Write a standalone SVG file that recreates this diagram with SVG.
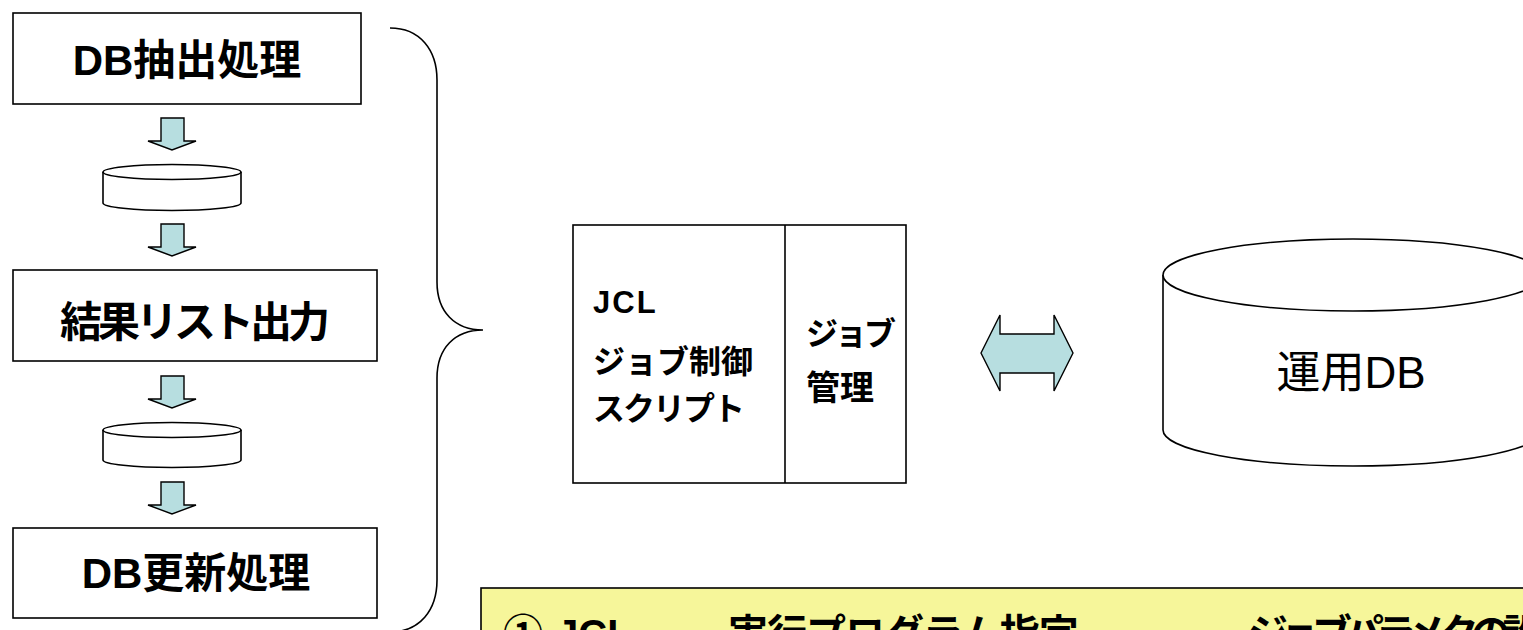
<svg xmlns="http://www.w3.org/2000/svg" width="1523" height="630" viewBox="0 0 1523 630">
<style>
.box{fill:#fff;stroke:#000;stroke-width:1.6}
.line{fill:none;stroke:#000;stroke-width:1.6}
.barrow{fill:#B7DEE0;stroke:#000;stroke-width:1.4;stroke-linejoin:miter}
.t{font-family:"Liberation Sans","Noto Sans CJK JP",sans-serif;fill:#000}
.b{font-weight:bold}
</style>
<defs>
<path id="downArrow" d="M161,0 H184 V23 H196 L172,32 L148,23 H161 Z"/>
</defs>
<rect width="1523" height="630" fill="#fff"/>

<g id="node-db-extract">
<rect class="box" x="13" y="13" width="348" height="91"/>
<text class="t b" x="187" y="75" font-size="42" text-anchor="middle">DB抽出処理</text>
</g>

<g id="node-disk1">
<path class="box" d="M103,172 V203 A69,7.5 0 0 0 241,203 V172"/>
<ellipse class="box" cx="172" cy="172" rx="69" ry="7.5"/>
</g>

<g id="node-result-list">
<rect class="box" x="13" y="270" width="364" height="91"/>
<text class="t b" x="193" y="337" font-size="42" letter-spacing="-4" text-anchor="middle">結果リスト出力</text>
</g>

<g id="node-disk2">
<path class="box" d="M103,430 V460 A69,7.5 0 0 0 241,460 V430"/>
<ellipse class="box" cx="172" cy="430" rx="69" ry="7.5"/>
</g>

<g id="node-db-update">
<rect class="box" x="13" y="528" width="364" height="90"/>
<text class="t b" x="196" y="588" font-size="42" text-anchor="middle">DB更新処理</text>
</g>

<g id="node-jcl">
<rect class="box" x="573" y="225" width="333" height="258"/>
<line class="line" x1="785" y1="225" x2="785" y2="483"/>
<text class="t b" x="593" y="313" font-size="31" letter-spacing="2">JCL</text>
<text class="t b" x="593" y="373" font-size="32">ジョブ制御</text>
<text class="t b" x="593" y="420" font-size="32" letter-spacing="-2">スクリプト</text>
<text class="t b" x="806" y="345" font-size="32" letter-spacing="-3">ジョブ</text>
<text class="t b" x="806" y="400" font-size="34">管理</text>
</g>

<g id="node-operational-db">
<path class="box" d="M1163,275 V430 A190,36 0 0 0 1543,430 V275"/>
<ellipse class="box" cx="1353" cy="275" rx="190" ry="36"/>
<text class="t" x="1351" y="388" font-size="44" text-anchor="middle">運用DB</text>
</g>

<g id="node-note">
<rect x="481" y="588" width="1060" height="80" fill="#F6F69A" stroke="#000" stroke-width="1.6"/>
<text class="t b" y="648" font-size="40"><tspan x="503">①</tspan><tspan x="556">JCL</tspan><tspan x="728" letter-spacing="-1">実行プログラム指定</tspan><tspan x="1248" letter-spacing="-8">ジョブパラメタの設定</tspan></text>
</g>

<g id="connectors">
<use href="#downArrow" class="barrow" y="118"/>
<use href="#downArrow" class="barrow" y="224"/>
<use href="#downArrow" class="barrow" y="376"/>
<use href="#downArrow" class="barrow" y="482"/>
<path class="line" d="M390,28 C420,28 437,50 437,80 L437,282 C437,312 455,330 483,330 C455,330 437,348 437,378 L437,580 C437,610 420,632 390,632"/>
<path class="barrow" d="M981,353 L1000,315 V334 H1054 V315 L1073,353 L1054,391 V373 H1000 V391 Z"/>
</g>
</svg>
